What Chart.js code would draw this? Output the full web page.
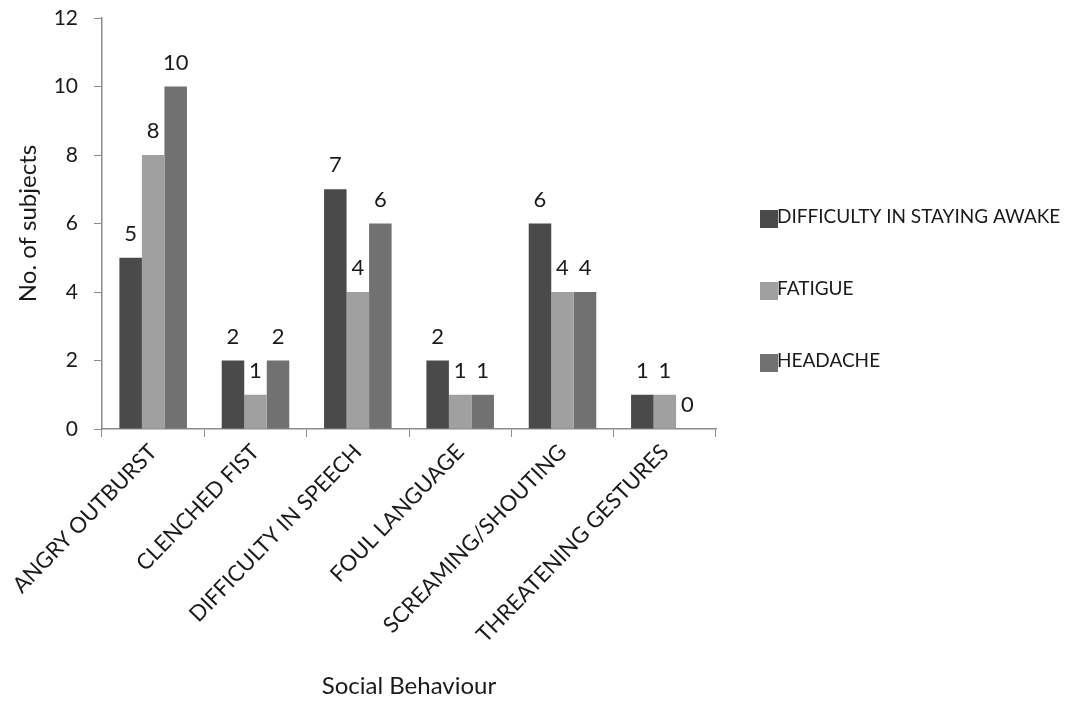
<!DOCTYPE html>
<html>
<head>
<meta charset="utf-8">
<script src="https://cdn.jsdelivr.net/npm/chart.js@4/dist/chart.umd.min.js"></script>
<style>
  html, body { margin: 0; padding: 0; background: #ffffff; }
  #wrap { width: 1070px; height: 703px; }
</style>
</head>
<body>
<div id="wrap"><canvas id="chart" width="1070" height="703"></canvas></div>
<script>
// Social behaviour categories and counts per sleep-related complaint
const behaviours = ['ANGRY OUTBURST', 'CLENCHED FIST', 'DIFFICULTY IN SPEECH', 'FOUL LANGUAGE', 'SCREAMING/SHOUTING', 'THREATENING GESTURES'];
const stayingAwake = [5, 2, 7, 2, 6, 1];
const fatigue = [8, 1, 4, 1, 4, 1];
const headache = [10, 2, 6, 1, 4, 0];
const seriesNames = ['DIFFICULTY IN STAYING AWAKE', 'FATIGUE', 'HEADACHE'];
const yTicks = [0, 2, 4, 6, 8, 10, 12];

const FONT = 'Lato, "Open Sans", sans-serif';
const TEXT = '#1a1a1a';
const AXIS = '#8c8c8c';
const colours = ['#4a4a4a', '#a0a0a0', '#717171'];

// Value labels above each bar
const valueLabels = {
  id: 'valueLabels',
  afterDatasetsDraw(chart) {
    const ctx = chart.ctx;
    ctx.save();
    ctx.font = '22px ' + FONT;
    ctx.fillStyle = TEXT;
    ctx.textAlign = 'center';
    ctx.textBaseline = 'alphabetic';
    chart.data.datasets.forEach((ds, i) => {
      chart.getDatasetMeta(i).data.forEach((bar, j) => {
        ctx.fillText(String(ds.data[j]), bar.x, bar.y - 17);
      });
    });
    ctx.restore();
  }
};

// Legend stacked on the right with wide vertical spacing
const sideLegend = {
  id: 'sideLegend',
  afterDraw(chart) {
    const ctx = chart.ctx;
    ctx.save();
    ctx.font = '19px ' + FONT;
    ctx.textBaseline = 'middle';
    ctx.textAlign = 'left';
    const x = 760, rows = [217, 289, 361];
    chart.data.datasets.forEach((ds, i) => {
      ctx.fillStyle = ds.backgroundColor;
      ctx.fillRect(x, rows[i] - 7, 18, 18);
      ctx.fillStyle = TEXT;
      ctx.fillText(ds.label, x + 17, rows[i]);
    });
    ctx.restore();
  }
};

new Chart(document.getElementById('chart'), {
  type: 'bar',
  data: {
    labels: behaviours,
    datasets: [
      { label: seriesNames[0], data: stayingAwake, backgroundColor: colours[0] },
      { label: seriesNames[1], data: fatigue, backgroundColor: colours[1] },
      { label: seriesNames[2], data: headache, backgroundColor: colours[2] }
    ]
  },
  options: {
    responsive: false,
    animation: false,
    devicePixelRatio: 1,
    layout: { padding: { left: 0, right: 354, top: 18, bottom: 0 } },
    datasets: { bar: { categoryPercentage: 0.66, barPercentage: 1.0 } },
    plugins: {
      legend: { display: false },
      tooltip: { enabled: false }
    },
    scales: {
      x: {
        grid: { display: true, drawOnChartArea: false, color: AXIS, tickLength: 8, offset: true },
        border: { color: AXIS, width: 1.5 },
        ticks: { color: TEXT, font: { family: FONT, size: 22 }, maxRotation: 46, minRotation: 46, padding: 2, autoSkip: false },
        title: { display: true, text: 'Social Behaviour', color: TEXT, font: { family: FONT, size: 24 }, padding: { top: 0, bottom: 2 } },
        afterFit(scale) { scale.height = 274; }
      },
      y: {
        min: 0, max: 12,
        afterBuildTicks(scale) { scale.ticks = yTicks.map(v => ({ value: v })); },
        grid: { display: true, drawOnChartArea: false, color: AXIS, tickLength: 8 },
        border: { color: AXIS, width: 1.5 },
        ticks: { color: TEXT, font: { family: FONT, size: 21 }, padding: 16 },
        title: { display: true, text: 'No. of subjects', color: TEXT, font: { family: FONT, size: 24 }, padding: { top: 14, bottom: 0 } },
        afterFit(scale) { scale.width = 102; scale.paddingTop = 0; }
      }
    }
  },
  plugins: [valueLabels, sideLegend]
});
</script>
</body>
</html>
